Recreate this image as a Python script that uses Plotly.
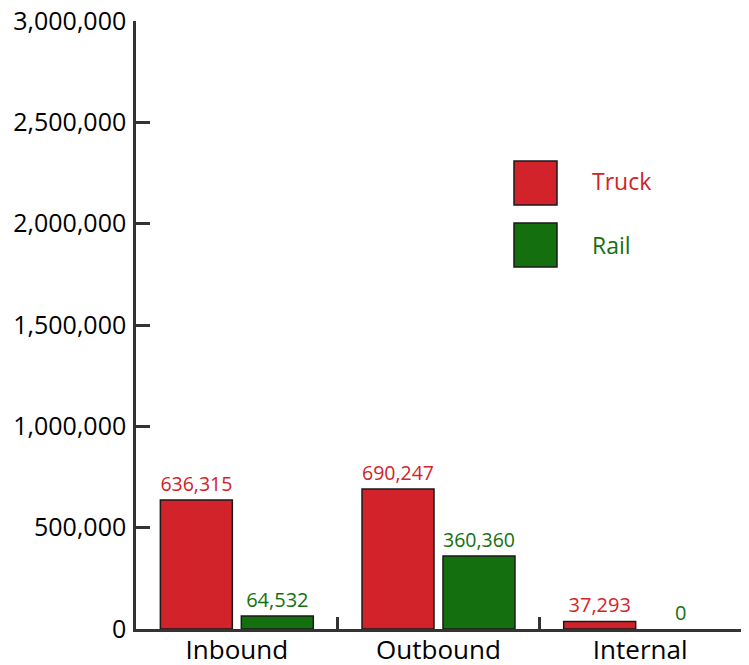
import plotly.graph_objects as go

categories = ["Inbound", "Outbound", "Internal"]
truck = [636315, 690247, 37293]
rail = [64532, 360360, 0]
series_names = ["Truck", "Rail"]

red = "#D2232A"
green = "#14700F"
font = "Open Sans"

fig = go.Figure()
for name, vals, col in [("Truck", truck, red), ("Rail", rail, green)]:
    fig.add_trace(go.Bar(
        x=categories, y=vals, name=name,
        marker=dict(color=col,
                    line=dict(color="#1a1a1a", width=[1.5 if v else 0 for v in vals])),
        text=[f"{v:,}" for v in vals], textposition="outside",
        textfont=dict(color=col, size=20, family=font),
        cliponaxis=False, showlegend=False,
    ))

# legend drawn as big squares with coloured labels
for i, (name, col) in enumerate(zip(series_names, [red, green])):
    fig.add_shape(type="rect", xref="paper", yref="paper",
                  x0=(514 - 136) / 605, x1=(557 - 136) / 605,
                  y0=(629 - 205 - i * 62) / 608, y1=(629 - 161 - i * 62) / 608,
                  fillcolor=col, line=dict(color="#1a1a1a", width=1.5))
    fig.add_annotation(xref="paper", yref="paper", x=(590 - 136) / 605,
                       y=(629 - 181 - i * 64) / 608, text=name, showarrow=False,
                       xanchor="left", yanchor="middle",
                       font=dict(color=col, size=23, family=font))

# page body adds an 8px offset, so the figure is drawn 8px smaller
fig.update_layout(
    width=741, height=657,
    margin=dict(l=128, r=8, t=13, b=36),
    plot_bgcolor="white", paper_bgcolor="white",
    barmode="group", bargap=0.197, bargroupgap=0.111,
    font=dict(family=font, color="black"),
)
fig.update_yaxes(
    range=[0, 3000000], tickvals=[0, 500000, 1000000, 1500000, 2000000, 2500000, 3000000],
    tickformat=",", showgrid=False, zeroline=False, automargin=False,
    showline=True, linecolor="#333", linewidth=2.5,
    ticks="inside", ticklen=14, tickwidth=2.5, tickcolor="#333",
    tickfont=dict(size=25, color="black"), ticklabelstandoff=2,
    ticklabeloverflow="allow",
)
fig.update_xaxes(
    showgrid=False, showline=True, linecolor="#333", linewidth=2.5, automargin=False,
    ticks="inside", tickson="boundaries", ticklen=12, tickwidth=2.5, tickcolor="#333",
    tickfont=dict(size=26, color="black"), ticklabelstandoff=-4,
    ticklabeloverflow="allow",
)

fig.write_html("out.html")
